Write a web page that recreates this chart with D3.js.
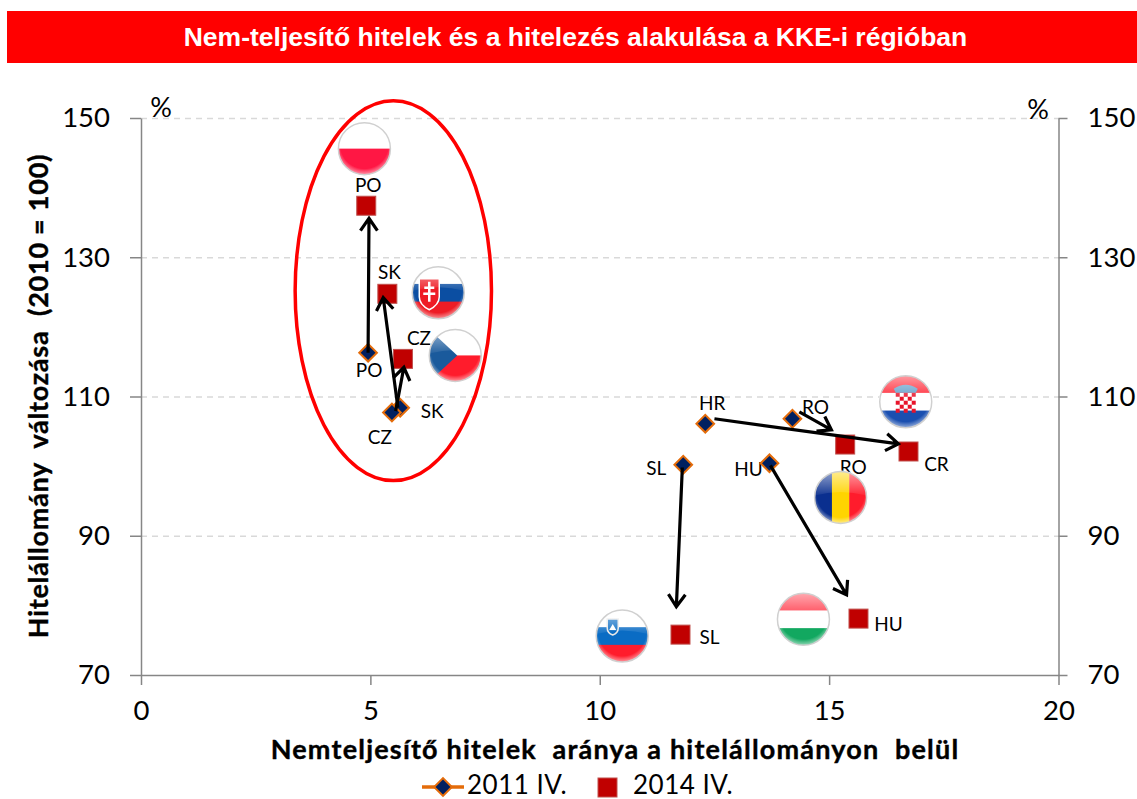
<!DOCTYPE html>
<html>
<head>
<meta charset="utf-8">
<script src="https://cdnjs.cloudflare.com/ajax/libs/d3/7.8.5/d3.min.js"></script>
<style>
  html, body { margin: 0; padding: 0; background: #fff; }
  svg { display: block; }
  text { font-family: Lato, "Open Sans", sans-serif; fill: #000; white-space: pre; }
  .axis path, .axis line { stroke: #868686; stroke-width: 1.5; }
  .axis text { font-size: 27.5px; font-family: Lato, sans-serif; }
  .grid line { stroke: #d9d9d9; stroke-width: 1.5; stroke-dasharray: 6 5; }
  .grid path { stroke: none; }
  .title { font-family: "Liberation Sans", Arial, sans-serif; font-weight: bold; font-size: 26.5px; fill: #fff; }
  .axis-title { font-weight: bold; font-size: 27px; stroke: #000; stroke-width: 0.4; }
  .lab { font-size: 19px; }
  .leg { font-size: 26px; letter-spacing: 0.5px; }
</style>
</head>
<body>
<div id="chart"></div>
<script>
// data
var countries = ["PO", "SK", "CZ", "HR", "RO", "SL", "HU"];
var npl2011 = [4.95, 5.65, 5.47, 12.3, 14.2, 11.82, 13.7];
var credit2011 = [116.3, 108.4, 107.7, 106.1, 106.8, 100.2, 100.4];
var npl2014 = [4.91, 5.37, 5.71, 16.73, 15.35, 11.76, 15.64];
var credit2014 = [137.4, 124.75, 115.4, 102.1, 103.1, 75.8, 78.1];
var labels2011 = ["PO", "SK", "CZ", "HR", "RO", "SL", "HU"];
var labels2014 = ["PO", "SK", "CZ", "CR", "RO", "SL", "HU"];
var xTicks = [0, 5, 10, 15, 20];
var yTicks = [70, 90, 110, 130, 150];

// arrows are drawn by hand in the original, they stop short of the markers
var arrowFromX = [4.95, 5.6, 5.55, 12.5, 14.35, 11.8, 13.72];
var arrowFromY = [116.3, 108.4, 107.9, 106.8, 107.8, 99.8, 100.1];
var arrowToX = [4.97, 5.28, 5.73, 16.51, 15.05, 11.67, 15.38];
var arrowToY = [135.6, 124.2, 114.2, 103.2, 105.2, 79.8, 81.5];

// flags, centre in chart units
var flagCodes = ["PO", "SK", "CZ", "HR", "RO", "SL", "HU"];
var flagX = [4.87, 6.48, 6.85, 16.67, 15.25, 10.49, 14.44];
var flagY = [145.6, 124.9, 115.9, 109.25, 95.5, 75.6, 78.0];

var margin = { left: 141, top: 118, right: 78.5, bottom: 124 };
var width = 1137 - margin.left - margin.right;
var height = 799 - margin.top - margin.bottom;

var svg = d3.select("#chart").append("svg")
    .attr("width", 1137)
    .attr("height", 799);

var defs = svg.append("defs");

// title bar
svg.append("rect")
    .attr("x", 7).attr("y", 11)
    .attr("width", 1130).attr("height", 52)
    .attr("fill", "#ff0000");
svg.append("text")
    .attr("class", "title")
    .attr("x", 575.5).attr("y", 46)
    .attr("text-anchor", "middle")
    .text("Nem-teljesítő hitelek és a hitelezés alakulása a KKE-i régióban");

var g = svg.append("g")
    .attr("transform", "translate(" + margin.left + "," + margin.top + ")");

var x = d3.scaleLinear().domain([0, 20]).range([0, width]);
var y = d3.scaleLinear().domain([70, 150]).range([height, 0]);

// gridlines
g.append("g")
    .attr("class", "grid")
    .call(d3.axisLeft(y).tickValues(yTicks.slice(1)).tickSize(-width).tickFormat(""));

// axes
g.append("g")
    .attr("class", "axis")
    .call(d3.axisLeft(y).tickValues(yTicks).tickSizeInner(11).tickSizeOuter(0).tickPadding(20));
g.append("g")
    .attr("class", "axis")
    .attr("transform", "translate(" + width + ",0)")
    .call(d3.axisRight(y).tickValues(yTicks).tickSizeInner(9).tickSizeOuter(0).tickPadding(20));
g.append("g")
    .attr("class", "axis")
    .attr("transform", "translate(0," + height + ")")
    .call(d3.axisBottom(x).tickValues(xTicks).tickSizeInner(10).tickSizeOuter(0).tickPadding(15));

// axis titles and % signs
svg.append("text").attr("x", 161).attr("y", 117).attr("text-anchor", "middle")
    .style("font-size", "27px").text("%");
svg.append("text").attr("x", 1038).attr("y", 119).attr("text-anchor", "middle")
    .style("font-size", "27px").text("%");
svg.append("text")
    .attr("class", "axis-title")
    .attr("x", 615).attr("y", 759)
    .attr("text-anchor", "middle")
    .style("letter-spacing", "1.2px")
    .text("Nemteljesítő hitelek  aránya a hitelállományon  belül");
svg.append("text")
    .attr("class", "axis-title")
    .attr("transform", "translate(48,396) rotate(-90)")
    .attr("text-anchor", "middle")
    .style("letter-spacing", "0.75px")
    .text("Hitelállomány  változása  (2010 = 100)");

// red ellipse round the V3 countries
g.append("ellipse")
    .attr("cx", x(5.5)).attr("cy", y(125.2))
    .attr("rx", x(2.14)).attr("ry", height * 0.341)
    .attr("fill", "none")
    .attr("stroke", "#ff0000")
    .attr("stroke-width", 3.5);

// point labels, offset from their marker
var offs2011 = [[1, 24], [32, 10], [-12, 31], [7, -14], [23, -5], [-27, 10], [-21, 13]];
var offs2014 = [[2, -14], [2, -15], [16, -14], [28, 19], [8, 29], [29, 9], [30, 12]];

function drawLabels(labs, xs, ys, offs) {
  g.selectAll(null).data(labs).enter().append("text")
      .attr("class", "lab")
      .attr("text-anchor", "middle")
      .attr("x", function(d, i) { return x(xs[i]) + offs[i][0]; })
      .attr("y", function(d, i) { return y(ys[i]) + offs[i][1]; })
      .text(function(d) { return d; });
}
drawLabels(labels2011, npl2011, credit2011, offs2011);
drawLabels(labels2014, npl2014, credit2014, offs2014);

// flags
var flagStripes = {
  PO: [["#ffffff", 0, 0.5], ["#ff1744", 0.5, 1]],
  SK: [["#ffffff", 0, 0.33], ["#0b4ea2", 0.33, 0.67], ["#ee1c25", 0.67, 1]],
  CZ: [["#ffffff", 0, 0.5], ["#ff1c2c", 0.5, 1]],
  HR: [["#ff1c2c", 0, 0.33], ["#ffffff", 0.33, 0.67], ["#1a4fb0", 0.67, 1]],
  SL: [["#ffffff", 0, 0.33], ["#0a6cc4", 0.33, 0.67], ["#ff1c2c", 0.67, 1]],
  HU: [["#ff3a4a", 0, 0.33], ["#ffffff", 0.33, 0.67], ["#12a860", 0.67, 1]]
};
var r = 26;

var gloss = defs.append("linearGradient").attr("id", "gloss")
    .attr("x1", 0).attr("x2", 0).attr("y1", 0).attr("y2", 1);
gloss.append("stop").attr("offset", "0%").attr("stop-color", "#fff").attr("stop-opacity", 0.6);
gloss.append("stop").attr("offset", "100%").attr("stop-color", "#fff").attr("stop-opacity", 0.05);
var shade = defs.append("radialGradient").attr("id", "shade")
    .attr("cx", "50%").attr("cy", "42%").attr("r", "58%");
shade.append("stop").attr("offset", "80%").attr("stop-color", "#fff").attr("stop-opacity", 0);
shade.append("stop").attr("offset", "100%").attr("stop-color", "#fff").attr("stop-opacity", 0.55);

defs.append("clipPath").attr("id", "flagClip")
    .append("circle").attr("r", r);

function drawFlag(code, i) {
  var f = g.append("g")
      .attr("transform", "translate(" + x(flagX[i]) + "," + y(flagY[i]) + ")");
  f.append("circle").attr("r", r + 1).attr("fill", "#fff");
  var inner = f.append("g").attr("clip-path", "url(#flagClip)");

  if (code === "RO") {
    var cols = ["#0a2f8f", "#ffd400", "#ff1c2c"];
    cols.forEach(function(c, k) {
      inner.append("rect").attr("x", -r + k * 2 * r / 3).attr("y", -r)
          .attr("width", 2 * r / 3 + 0.5).attr("height", 2 * r).attr("fill", c);
    });
  } else {
    flagStripes[code].forEach(function(s) {
      inner.append("rect").attr("x", -r).attr("y", -r + s[1] * 2 * r)
          .attr("width", 2 * r).attr("height", (s[2] - s[1]) * 2 * r + 0.5)
          .attr("fill", s[0]);
    });
  }
  if (code === "CZ") {
    inner.append("path").attr("d", "M-26,-26 L2,0 L-26,26 Z").attr("fill", "#1a5a9c");
  }
  if (code === "SK") {
    inner.append("path")
        .attr("d", "M-19,-14 H1 V4 Q1,12 -9,17 Q-19,12 -19,4 Z")
        .attr("fill", "#ee1c25")
        .attr("stroke", "#fff").attr("stroke-width", 1.5);
    inner.append("path")
        .attr("d", "M-9,-11 V9 M-14,-5 H-4 M-15,1 H-3")
        .attr("stroke", "#fff").attr("stroke-width", 2.5).attr("fill", "none");
  }
  if (code === "SL") {
    inner.append("path")
        .attr("d", "M-15,-17 H-4 V-8 Q-4,-3 -9.5,-1 Q-15,-3 -15,-8 Z")
        .attr("fill", "#0a6cc4")
        .attr("stroke", "#e8e8e8").attr("stroke-width", 1.5);
    inner.append("path")
        .attr("d", "M-13,-6 L-9.5,-12 L-6,-6 Z")
        .attr("fill", "#fff");
  }
  if (code === "HR") {
    // checkerboard shield
    var cell = 4;
    d3.range(5).forEach(function(row) {
      d3.range(5).forEach(function(col) {
        if ((row + col) % 2 === 0) {
          inner.append("rect")
              .attr("x", -10 + col * cell).attr("y", -9 + row * cell)
              .attr("width", cell).attr("height", cell)
              .attr("fill", "#e8142a");
        }
      });
    });
    inner.append("path").attr("d", "M-12,-13 Q0,-21 12,-13 L10,-9 H-10 Z")
        .attr("fill", "#5a9ac8");
  }
  inner.append("circle").attr("r", r).attr("fill", "url(#shade)");
  inner.append("path")
      .attr("d", "M" + (-r) + ",-2 A" + r + "," + r + " 0 0 1 " + r + ",-2 Q0,-9 " + (-r) + ",-2 Z")
      .attr("fill", "url(#gloss)");
  f.append("circle").attr("r", r).attr("fill", "none")
      .attr("stroke", "#d0d0d0").attr("stroke-width", 1.5);
}
flagCodes.forEach(drawFlag);

// markers
function diamond(sel) {
  sel.attr("d", d3.symbol().type(d3.symbolSquare).size(156)())
      .attr("fill", "#002060")
      .attr("stroke", "#e46c0a")
      .attr("stroke-width", 2);
}
g.selectAll(".m2011").data(countries).enter().append("path")
    .attr("class", "m2011")
    .attr("transform", function(d, i) {
      return "translate(" + x(npl2011[i]) + "," + y(credit2011[i]) + ") rotate(45)";
    })
    .call(diamond);

g.selectAll(".m2014").data(countries).enter().append("rect")
    .attr("class", "m2014")
    .attr("x", function(d, i) { return x(npl2014[i]) - 9.5; })
    .attr("y", function(d, i) { return y(credit2014[i]) - 9.5; })
    .attr("width", 19).attr("height", 19)
    .attr("fill", "#c00000")
    .attr("stroke", "#c0504d")
    .attr("stroke-width", 1);

// arrows
var head = 15;
countries.forEach(function(c, i) {
  var x0 = x(arrowFromX[i]), y0 = y(arrowFromY[i]),
      x1 = x(arrowToX[i]), y1 = y(arrowToY[i]),
      a = Math.atan2(y1 - y0, x1 - x0);
  var path = d3.path();
  path.moveTo(x0, y0);
  path.lineTo(x1, y1);
  path.moveTo(x1 - head * Math.cos(a - 0.6), y1 - head * Math.sin(a - 0.6));
  path.lineTo(x1, y1);
  path.lineTo(x1 - head * Math.cos(a + 0.6), y1 - head * Math.sin(a + 0.6));
  g.append("path")
      .attr("d", path.toString())
      .attr("fill", "none")
      .attr("stroke", "#000")
      .attr("stroke-width", 3.2);
});

// legend
var legend = svg.append("g").attr("transform", "translate(0,787)");
legend.append("line")
    .attr("x1", 422).attr("x2", 464)
    .attr("stroke", "#e46c0a").attr("stroke-width", 3.5);
legend.append("path")
    .attr("transform", "translate(443,0) rotate(45)")
    .call(diamond);
legend.append("text").attr("class", "leg").attr("x", 467).attr("y", 7).text("2011 IV.");
legend.append("rect")
    .attr("x", 598).attr("y", -9)
    .attr("width", 19).attr("height", 19)
    .attr("fill", "#c00000").attr("stroke", "#c0504d");
legend.append("text").attr("class", "leg").attr("x", 633).attr("y", 7).text("2014 IV.");
</script>
</body>
</html>
